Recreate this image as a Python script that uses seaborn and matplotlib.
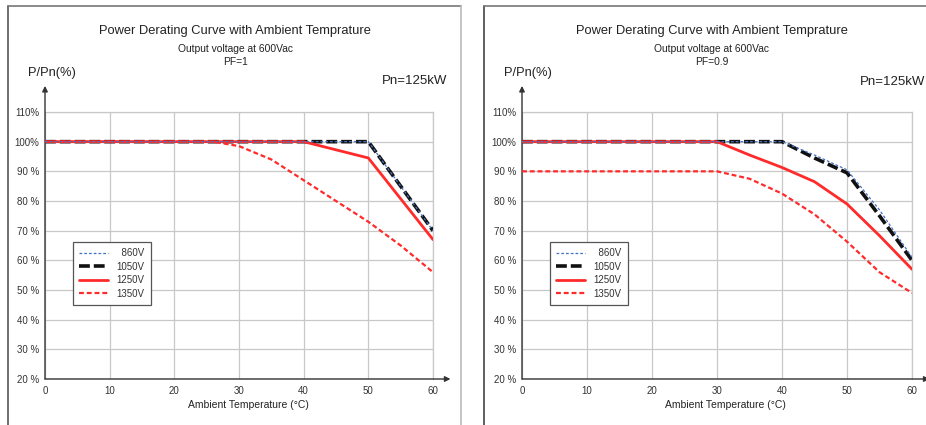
import matplotlib
matplotlib.use("Agg")
import matplotlib.pyplot as plt
from matplotlib.lines import Line2D
import seaborn as sns
import pandas as pd

# ---------------- data ----------------
series_names = ["860V", "1050V", "1250V", "1350V"]

# PF = 1
pf1_860_x = [0, 50, 60]
pf1_860_y = [100, 100, 70]
pf1_1050_x = [0, 50, 60]
pf1_1050_y = [100, 100, 70]
pf1_1250_x = [0, 40, 50, 60]
pf1_1250_y = [100, 100, 94.5, 67]
pf1_1350_x = [0, 26, 30, 35, 40, 45, 50, 55, 60]
pf1_1350_y = [100, 100, 98.5, 94, 87, 80, 73, 65, 56]

# PF = 0.9
pf09_860_x = [0, 40, 45, 50, 55, 60]
pf09_860_y = [100, 100, 95.5, 90.5, 77, 61]
pf09_1050_x = [0, 40, 45, 50, 55, 60]
pf09_1050_y = [100, 100, 94.5, 89.5, 75, 60]
pf09_1250_x = [0, 30, 35, 40, 45, 50, 55, 60]
pf09_1250_y = [100, 100, 95.5, 91.3, 86.5, 79, 68.3, 57]
pf09_1350_x = [0, 30, 35, 40, 45, 50, 55, 60]
pf09_1350_y = [90, 90, 87.5, 82.5, 75.5, 66.3, 56, 49]

x_ticks = [0, 10, 20, 30, 40, 50, 60]
y_ticks = [20, 30, 40, 50, 60, 70, 80, 90, 100, 110]
y_tick_labels = ["20 %", "30 %", "40 %", "50 %", "60 %", "70 %", "80 %", "90 %", "100%", "110%"]

title = "Power Derating Curve with Ambient Temprature"
subtitle = "Output voltage at 600Vac"
pf_labels = ["PF=1", "PF=0.9"]
ylab = "P/Pn(%)"
pn_lab = "Pn=125kW"
xlab = "Ambient Temperature (°C)"


def long_df(xs, ys):
    rows = []
    for name, x, y in zip(series_names, xs, ys):
        for a, b in zip(x, y):
            rows.append({"temp": a, "p": b, "volt": name})
    return pd.DataFrame(rows)


df_pf1 = long_df([pf1_860_x, pf1_1050_x, pf1_1250_x, pf1_1350_x],
                 [pf1_860_y, pf1_1050_y, pf1_1250_y, pf1_1350_y])
df_pf09 = long_df([pf09_860_x, pf09_1050_x, pf09_1250_x, pf09_1350_x],
                  [pf09_860_y, pf09_1050_y, pf09_1250_y, pf09_1350_y])

# ---------------- style ----------------
sns.set_style("white")
plt.rcParams["font.family"] = ["Liberation Sans", "DejaVu Sans"]

styles = {
    "860V": dict(color="#4472C4", lw=0.9, ls=(0, (2.2, 1.6)), z=6),
    "1050V": dict(color="#111111", lw=2.6, ls=(0, (3.0, 1.1)), z=3),
    "1250V": dict(color="#FF2A2A", lw=2.0, ls="-", z=4),
    "1350V": dict(color="#FF2A2A", lw=1.6, ls=(0, (2.2, 1.3)), z=5),
}

W, H = 926, 425
fig = plt.figure(figsize=(W / 100, H / 100), dpi=100)


def fx(px):
    return px / W


def fy(py):
    return 1 - py / H


# panel borders
fig.add_artist(Line2D([fx(8), fx(8)], [0, fy(6)], transform=fig.transFigure, color="#555555", lw=1.2))
fig.add_artist(Line2D([fx(8), fx(461)], [fy(6), fy(6)], transform=fig.transFigure, color="#777777", lw=1.2))
fig.add_artist(Line2D([fx(461), fx(461)], [0, fy(6)], transform=fig.transFigure, color="#bbbbbb", lw=1.2))
fig.add_artist(Line2D([fx(484), fx(484)], [0, fy(6)], transform=fig.transFigure, color="#444444", lw=1.2))
fig.add_artist(Line2D([fx(484), 1], [fy(6), fy(6)], transform=fig.transFigure, color="#777777", lw=1.2))

panels = [
    dict(df=df_pf1, ax_left=45, ax_right=433, cx=235, xl_cx=248, ylab_x=28, pn_x=382, pn_y=81, pf=pf_labels[0]),
    dict(df=df_pf09, ax_left=522, ax_right=912, cx=712, xl_cx=725, ylab_x=504, pn_x=860, pn_y=82, pf=pf_labels[1]),
]

ax_top, ax_bot = 112, 379
for p in panels:
    ax = fig.add_axes([fx(p["ax_left"]), fy(ax_bot), fx(p["ax_right"] - p["ax_left"]), (ax_bot - ax_top) / H])
    handles = {}
    for name in ["1050V", "1250V", "1350V", "860V"]:
        st = styles[name]
        sub = p["df"][p["df"]["volt"] == name]
        sns.lineplot(data=sub, x="temp", y="p", ax=ax, color=st["color"], linewidth=st["lw"],
                     linestyle=st["ls"], errorbar=None, legend=False, zorder=st["z"])
        handles[name] = ax.lines[-1]
    ax.set_xlim(0, 60)
    ax.set_ylim(20, 110)
    ax.set_xticks(x_ticks)
    ax.set_yticks(y_ticks)
    ax.set_yticklabels(y_tick_labels)
    ax.tick_params(axis="both", length=0, labelsize=7, labelcolor="#333333")
    ax.tick_params(axis="x", pad=5)
    ax.tick_params(axis="y", pad=4)
    ax.set_xlabel("")
    ax.set_ylabel("")
    ax.grid(True, color="#c8c8c8", lw=0.9)
    ax.set_axisbelow(True)
    for s in ["top", "right"]:
        ax.spines[s].set_color("#c8c8c8")
        ax.spines[s].set_linewidth(0.9)
    for s in ["left", "bottom"]:
        ax.spines[s].set_visible(False)
    # axis arrows
    ax.annotate("", xy=(0, 118.8), xytext=(0, 20), annotation_clip=False,
                arrowprops=dict(arrowstyle="-|>", color="#333333", lw=1.0, mutation_scale=8,
                                shrinkA=0, shrinkB=0))
    ax.annotate("", xy=(62.7, 20), xytext=(0, 20), annotation_clip=False,
                arrowprops=dict(arrowstyle="-|>", color="#333333", lw=1.0, mutation_scale=8,
                                shrinkA=0, shrinkB=0))
    # legend
    leg_left = p["ax_left"] + 28
    leg = ax.legend([handles[n] for n in series_names], ["  " + n if n == "860V" else n for n in series_names],
                    loc="upper left", bbox_to_anchor=(fx(leg_left), fy(242)),
                    bbox_transform=fig.transFigure, borderaxespad=0,
                    fontsize=7, handlelength=3.0, handletextpad=0.8, labelspacing=0.35,
                    borderpad=0.65, fancybox=False, frameon=True, framealpha=1)
    leg.get_frame().set_edgecolor("#555555")
    leg.get_frame().set_linewidth(0.9)
    for t in leg.get_texts():
        t.set_color("#333333")
    # texts
    fig.text(fx(p["cx"]), fy(31), title, ha="center", va="center", fontsize=9.3, color="#222222")
    fig.text(fx(p["cx"]), fy(49), subtitle, ha="center", va="center", fontsize=7.4, color="#222222")
    fig.text(fx(p["cx"]), fy(62), p["pf"], ha="center", va="center", fontsize=7.4, color="#222222")
    fig.text(fx(p["ylab_x"]), fy(73), ylab, ha="left", va="center", fontsize=9.3, color="#222222")
    fig.text(fx(p["pn_x"]), fy(p["pn_y"]), pn_lab, ha="left", va="center", fontsize=9.5, color="#222222")
    fig.text(fx(p["xl_cx"]), fy(405), xlab, ha="center", va="center", fontsize=7.5, color="#222222")

fig.savefig("out.png", dpi=100)
